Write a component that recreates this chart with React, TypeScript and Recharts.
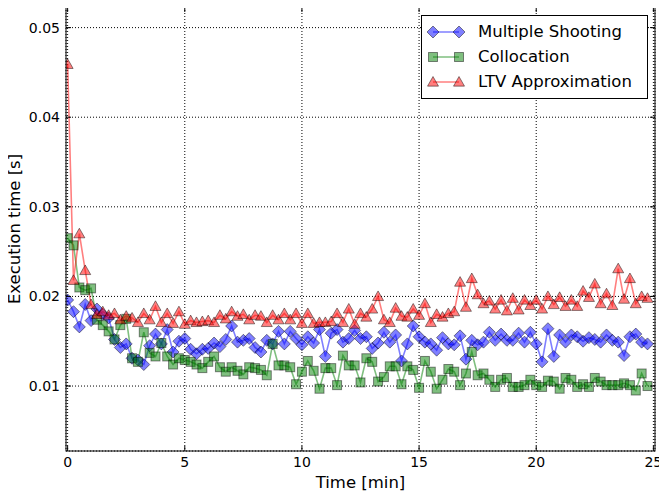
import React from "react";
import {
  LineChart,
  Line,
  XAxis,
  YAxis,
  CartesianGrid,
  Legend,
} from "recharts";

// sample times [min]
const time = [
  0, 0.25, 0.5, 0.75, 1, 1.25, 1.5, 1.75, 2, 2.25, 2.5, 2.75, 3, 3.25, 3.5, 3.75,
  4, 4.25, 4.5, 4.75, 5, 5.25, 5.5, 5.75, 6, 6.25, 6.5, 6.75, 7, 7.25, 7.5, 7.75,
  8, 8.25, 8.5, 8.75, 9, 9.25, 9.5, 9.75, 10, 10.25, 10.5, 10.75, 11, 11.25, 11.5,
  11.75, 12, 12.25, 12.5, 12.75, 13, 13.25, 13.5, 13.75, 14, 14.25, 14.5, 14.75,
  15, 15.25, 15.5, 15.75, 16, 16.25, 16.5, 16.75, 17, 17.25, 17.5, 17.75, 18,
  18.25, 18.5, 18.75, 19, 19.25, 19.5, 19.75, 20, 20.25, 20.5, 20.75, 21, 21.25,
  21.5, 21.75, 22, 22.25, 22.5, 22.75, 23, 23.25, 23.5, 23.75, 24, 24.25, 24.5,
  24.75,
];

const multipleShooting = [
  0.0196, 0.0183, 0.0166, 0.0191, 0.0173, 0.0186, 0.018, 0.0176, 0.0152, 0.0143,
  0.0147, 0.0131, 0.0129, 0.0124, 0.0145, 0.0158, 0.0147, 0.0163, 0.0138, 0.015,
  0.0153, 0.0141, 0.0136, 0.0141, 0.0142, 0.0148, 0.0144, 0.0152, 0.0167, 0.0149,
  0.0151, 0.0153, 0.0143, 0.0138, 0.0151, 0.0147, 0.0161, 0.0147, 0.0161, 0.0153,
  0.0146, 0.0155, 0.0148, 0.0163, 0.0133, 0.0159, 0.0163, 0.0149, 0.0153, 0.0162,
  0.0153, 0.0155, 0.0142, 0.0148, 0.016, 0.0149, 0.0157, 0.0128, 0.0147, 0.0167,
  0.0155, 0.0149, 0.0147, 0.014, 0.0154, 0.0147, 0.0146, 0.0156, 0.013, 0.0151,
  0.0146, 0.0149, 0.016, 0.0151, 0.0158, 0.0151, 0.0151, 0.0159, 0.0149, 0.016,
  0.0147, 0.0127, 0.0164, 0.0133, 0.0157, 0.0149, 0.0157, 0.0155, 0.015, 0.0154,
  0.0152, 0.0149, 0.0157, 0.0151, 0.0149, 0.0134, 0.0155, 0.0158, 0.0149, 0.0147,
];

const collocation = [
  0.0265, 0.0257, 0.021, 0.0207, 0.0209, 0.0174, 0.0168, 0.0161, 0.0152, 0.0168,
  0.0175, 0.0131, 0.0127, 0.016, 0.0137, 0.0133, 0.0148, 0.0133, 0.0124, 0.0131,
  0.0129, 0.0127, 0.0124, 0.012, 0.0127, 0.0133, 0.0121, 0.0116, 0.0121, 0.0117,
  0.0113, 0.0121, 0.012, 0.0118, 0.0112, 0.0147, 0.0123, 0.0123, 0.0121, 0.0102,
  0.0116, 0.0128, 0.0117, 0.0097, 0.012, 0.012, 0.0101, 0.0134, 0.0123, 0.0123,
  0.0104, 0.0131, 0.0127, 0.0105, 0.011, 0.0122, 0.0122, 0.0102, 0.0122, 0.0118,
  0.0098, 0.0128, 0.0116, 0.0097, 0.0107, 0.0119, 0.0116, 0.0101, 0.0114, 0.0138,
  0.0112, 0.0114, 0.0107, 0.0099, 0.0107, 0.0109, 0.0099, 0.0099, 0.0101, 0.0107,
  0.0101, 0.0099, 0.0106, 0.0105, 0.0097, 0.0109, 0.0107, 0.0099, 0.0102, 0.0099,
  0.0109, 0.0105, 0.0101, 0.0101, 0.0101, 0.0103, 0.0101, 0.0095, 0.0114, 0.01,
];

const ltvApproximation = [
  0.0459, 0.0218, 0.027, 0.0229, 0.0191, 0.018, 0.0183, 0.0179, 0.0181, 0.0174,
  0.0178, 0.0176, 0.0171, 0.0181, 0.0174, 0.0189, 0.0171, 0.0181, 0.017, 0.0183,
  0.0169, 0.0173, 0.0171, 0.0172, 0.0173, 0.0171, 0.0179, 0.0175, 0.0183, 0.0178,
  0.018, 0.0174, 0.0179, 0.0178, 0.0171, 0.0179, 0.0174, 0.0181, 0.0174, 0.0181,
  0.017, 0.0181, 0.017, 0.0171, 0.0171, 0.0172, 0.0181, 0.0171, 0.0186, 0.0169,
  0.0181, 0.0177, 0.0186, 0.02, 0.0174, 0.0171, 0.0187, 0.0178, 0.0177, 0.0186,
  0.0179, 0.0192, 0.0171, 0.018, 0.0177, 0.0181, 0.0183, 0.0216, 0.0188, 0.022,
  0.0202, 0.0192, 0.0195, 0.0186, 0.0196, 0.0184, 0.0198, 0.0185, 0.0196, 0.019,
  0.0196, 0.0186, 0.02, 0.0191, 0.0199, 0.0189, 0.0196, 0.0189, 0.0206, 0.0199,
  0.0214, 0.0192, 0.0203, 0.019, 0.0231, 0.0197, 0.022, 0.0192, 0.02, 0.0198,
];

const xTicks = [0, 5, 10, 15, 20, 25];
const yTicks = [0.01, 0.02, 0.03, 0.04, 0.05];

const data = time.map((t, i) => ({
  t,
  ms: multipleShooting[i],
  col: collocation[i],
  ltv: ltvApproximation[i],
}));

// plot box in page pixels
const W = 667;
const H = 497;
const PLOT = { left: 66, top: 7, right: 655, bottom: 451 };
const FONT = "'DejaVu Sans', Verdana, sans-serif";
const TICK_LEN = 5;

type MarkerKind = "diamond" | "square" | "triangle";

const series: { key: string; name: string; color: string; marker: MarkerKind }[] = [
  { key: "ms", name: "Multiple Shooting", color: "#0000ff", marker: "diamond" },
  { key: "col", name: "Collocation", color: "#008000", marker: "square" },
  { key: "ltv", name: "LTV Approximation", color: "#ff0000", marker: "triangle" },
];

function Marker({ cx, cy, kind, color }: { cx: number; cy: number; kind: MarkerKind; color: string }) {
  const common = {
    fill: color,
    fillOpacity: 0.5,
    stroke: "#000",
    strokeOpacity: 0.45,
    strokeWidth: 1,
  };
  if (kind === "diamond") {
    const r = 6;
    return <polygon points={`${cx},${cy - r} ${cx + r},${cy} ${cx},${cy + r} ${cx - r},${cy}`} {...common} />;
  }
  if (kind === "square") {
    const s = 4.5;
    return <rect x={cx - s} y={cy - s} width={2 * s} height={2 * s} {...common} />;
  }
  const r = 5.5;
  return (
    <polygon
      points={`${cx},${cy - r} ${cx + r},${cy + r * 0.75} ${cx - r},${cy + r * 0.75}`}
      {...common}
    />
  );
}

const makeDot = (kind: MarkerKind, color: string) => (props: any) => {
  const { cx, cy, index } = props;
  if (cx == null || cy == null) return <g key={`dot-${index}`} />;
  return <Marker key={`dot-${index}`} cx={cx} cy={cy} kind={kind} color={color} />;
};

// x ticks point inward from the bottom and top spines
const XTick = (props: any) => {
  const { x, payload } = props;
  return (
    <g>
      <line x1={x} x2={x} y1={PLOT.bottom} y2={PLOT.bottom - TICK_LEN} stroke="#000" />
      <line x1={x} x2={x} y1={PLOT.top} y2={PLOT.top + TICK_LEN} stroke="#000" />
      <text x={x} y={467} textAnchor="middle" fontSize={14} fontFamily={FONT} fill="#000">
        {payload.value}
      </text>
    </g>
  );
};

const YTick = (props: any) => {
  const { y, payload } = props;
  return (
    <g>
      <line x1={PLOT.left} x2={PLOT.left + TICK_LEN} y1={y} y2={y} stroke="#000" />
      <line x1={PLOT.right} x2={PLOT.right - TICK_LEN} y1={y} y2={y} stroke="#000" />
      <text x={60} y={y + 5} textAnchor="end" fontSize={14} fontFamily={FONT} fill="#000">
        {payload.value.toFixed(2)}
      </text>
    </g>
  );
};

const renderLegend = () => (
  <div
    style={{
      border: "1px solid #000",
      background: "#fff",
      padding: "3px 0 4px 0",
      fontFamily: FONT,
      fontSize: 16.5,
      boxSizing: "border-box",
    }}
  >
    {series.map((s) => (
      <div key={s.key} style={{ display: "flex", alignItems: "center", height: 25 }}>
        <svg width={56} height={20} style={{ flex: "none" }}>
          <line x1={11} x2={37} y1={10} y2={10} stroke={s.color} strokeOpacity={0.5} strokeWidth={1.5} />
          <Marker cx={11} cy={10} kind={s.marker} color={s.color} />
          <Marker cx={37} cy={10} kind={s.marker} color={s.color} />
        </svg>
        <span style={{ whiteSpace: "nowrap" }}>{s.name}</span>
      </div>
    ))}
  </div>
);

export default function App() {
  return (
    <div style={{ position: "relative", left: -8, top: -8, width: W, height: H, background: "#fff" }}>
      <LineChart
        width={W}
        height={H}
        data={data}
        margin={{
          top: PLOT.top,
          left: PLOT.left - 1,
          right: W - PLOT.right,
          bottom: H - PLOT.bottom - 1,
        }}
      >
        <CartesianGrid stroke="#000" strokeWidth={1} strokeDasharray="1 2" />
        <XAxis
          dataKey="t"
          type="number"
          domain={[-0.07, 25.07]}
          ticks={xTicks}
          allowDataOverflow
          height={1}
          axisLine={false}
          tickLine={false}
          tick={<XTick />}
        />
        <YAxis
          type="number"
          domain={[0.00275, 0.0523]}
          ticks={yTicks}
          allowDataOverflow
          width={1}
          axisLine={false}
          tickLine={false}
          tick={<YTick />}
        />
        <Legend
          content={renderLegend}
          layout="vertical"
          align="center"
          verticalAlign="middle"
          wrapperStyle={{ top: 15, left: 421, width: 227 }}
        />
        {series.map((s) => (
          <Line
            key={s.key}
            dataKey={s.key}
            name={s.name}
            type="linear"
            stroke={s.color}
            strokeOpacity={0.5}
            strokeWidth={1.6}
            dot={makeDot(s.marker, s.color)}
            activeDot={false}
            isAnimationActive={false}
          />
        ))}
      </LineChart>
      <svg
        width={W}
        height={H}
        style={{ position: "absolute", left: 0, top: 0, pointerEvents: "none" }}
      >
        <rect
          x={PLOT.left}
          y={PLOT.top}
          width={PLOT.right - PLOT.left}
          height={PLOT.bottom - PLOT.top}
          fill="none"
          stroke="#000"
          strokeWidth={1}
        />
        <text x={(PLOT.left + PLOT.right) / 2} y={488} textAnchor="middle" fontSize={16.5} fontFamily={FONT}>
          Time [min]
        </text>
        <text
          transform={`translate(20, ${(PLOT.top + PLOT.bottom) / 2}) rotate(-90)`}
          textAnchor="middle"
          fontSize={16.5}
          fontFamily={FONT}
        >
          Execution time [s]
        </text>
      </svg>
    </div>
  );
}
